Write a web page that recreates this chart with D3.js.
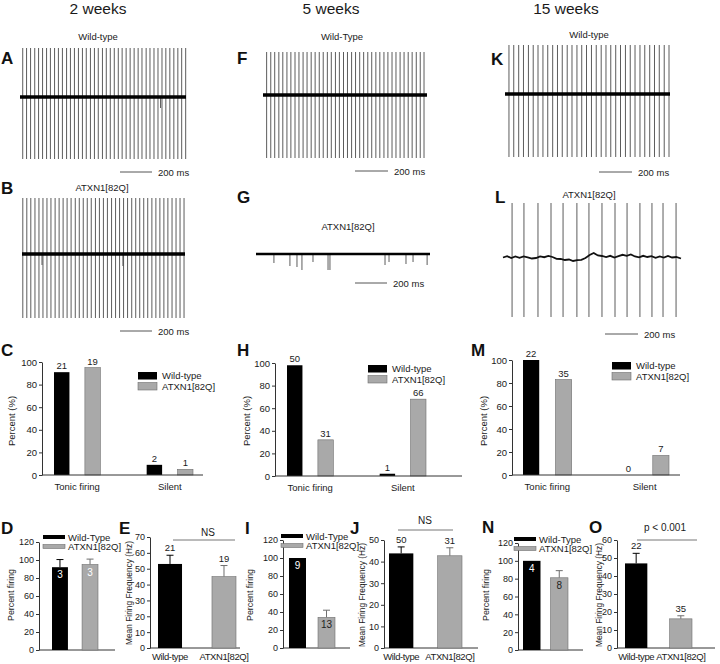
<!DOCTYPE html>
<html><head><meta charset="utf-8">
<script src="https://cdn.jsdelivr.net/npm/d3@7"></script>
<style>
body{margin:0;background:#fff}
svg text{font-family:"Liberation Sans",Arial,Helvetica,sans-serif;fill:#1a1a1a}
</style></head><body>
<svg id="fig" width="720" height="664"></svg>
<script>
// ---------------- DATA ----------------
const weekHeaders = ["2 weeks", "5 weeks", "15 weeks"];
const genotypes = ["Wild-type", "ATXN1[82Q]"];
const genotypesLegend = ["Wild-Type", "ATXN1[82Q]"];
const firingCategories = ["Tonic firing", "Silent"];
const scaleBarMs = 200;
const scaleBarLabel = "200 ms";

// traces: A, B, F, G, K, L
const traceIds = ["A", "B", "F", "G", "K", "L"];
const traceLabels = ["Wild-type", "ATXN1[82Q]", "Wild-Type", "ATXN1[82Q]", "Wild-type", "ATXN1[82Q]"];
const traceDurMs = [1037, 1019, 994, 1087, 1000, 1079];
const spikeUpAmp = [490, 560, 430, 0, 490, 540];
const spikeDownAmp = [620, 640, 630, 0, 630, 600];

const spikeTimesA = [17, 41, 66, 92, 116, 141, 166, 190, 216, 240, 265, 291, 315, 340, 365, 390, 414, 440, 465, 489, 515, 539, 564, 589, 614, 638, 663, 688, 713, 738, 762, 788, 812, 837, 862, 887, 911, 936, 961, 986, 1010, 1035];
const spikeTimesB = [5, 30, 55, 81, 106, 131, 156, 181, 207, 232, 257, 282, 307, 333, 358, 383, 408, 433, 459, 484, 509, 534, 560, 585, 610, 635, 660, 686, 711, 736, 761, 786, 812, 837, 862, 887, 912, 938, 963, 988, 1013];
const spikeTimesF = [22, 47, 71, 96, 120, 145, 169, 194, 218, 243, 267, 292, 316, 341, 365, 390, 414, 439, 463, 488, 512, 537, 561, 586, 610, 635, 659, 684, 708, 733, 757, 782, 806, 831, 855, 880, 904, 929, 953, 976];
const spikeTimesG = [];
const spikeTimesK = [24, 53, 83, 112, 142, 171, 200, 230, 259, 289, 318, 347, 377, 406, 436, 465, 494, 524, 553, 583, 612, 641, 671, 700, 730, 759, 788, 818, 847, 877, 906, 935, 965, 994];
const spikeTimesL = [55, 127, 212, 291, 364, 448, 521, 600, 679, 752, 830, 903, 970, 1049];

// small downward deflections (time ms, depth)
const dipTimesA = [878], dipDepthA = [110];
const dipTimesB = [125, 631], dipDepthB = [110, 120];
const dipTimesG = [112, 212, 256, 287, 356, 450, 462, 806, 831, 937, 981, 1069];
const dipDepthG = [90, 120, 130, 160, 80, 160, 160, 110, 80, 100, 80, 110];

// wavy baseline of trace L
const baseTimesL = [0, 25, 50, 75, 100, 125, 150, 175, 200, 225, 250, 275, 300, 325, 350, 375, 400, 425, 450, 475, 500, 525, 550, 575, 600, 625, 650, 675, 700, 725, 750, 775, 800, 825, 850, 875, 900, 925, 950, 975, 1000, 1025, 1050, 1079];
const baseValsL = [-5, 8, -10, 5, -8, 6, -4, -15, -10, 6, -2, 10, 0, -18, -20, -30, -25, -40, -32, -28, -10, 20, 40, 15, 10, 0, 12, -5, 8, 22, 12, 25, 5, -3, 12, 0, 8, -8, 5, -5, 10, -5, 0, -15];

// percent of cells (C, H, M)
const pctTicks = [0, 20, 40, 60, 80, 100];
const pctC_wt = [91, 9],  pctC_mut = [95, 5],  nC_wt = [21, 2],  nC_mut = [19, 1];
const pctH_wt = [98, 2],  pctH_mut = [32, 68], nH_wt = [50, 1],  nH_mut = [31, 66];
const pctM_wt = [100, 0], pctM_mut = [83, 17], nM_wt = [22, 0],  nM_mut = [35, 7];

// percent firing (D, I, N)
const firingTicks = [0, 20, 40, 60, 80, 100, 120];
const pctD = [92, 95],  errD = [8.5, 6], nD = [3, 3];
const pctI = [100, 34], errI = [0, 8],   nI = [9, 13];
const pctN = [100, 81], errN = [0, 8],   nN = [4, 8];

// mean firing frequency (E, J, O)
const freqTicksE = [0, 10, 20, 30, 40, 50, 60, 70];
const freqTicksJ = [0, 10, 20, 30, 40, 50];
const freqTicksO = [0, 10, 20, 30, 40, 50, 60];
const freqE = [53, 45],   errE = [5.5, 7],   nE = [21, 19];
const freqJ = [43.8, 42.7], errJ = [3, 3.7], nJ = [50, 31];
const freqO = [47, 16.2], errO = [5.6, 1.7], nO = [22, 35];
const sigE = "NS", sigJ = "NS", sigO = "p < 0.001";

// ---------------- LAYOUT ----------------
const svg = d3.select("#fig");
const BLACK = "#000", GREY = "#a9a9a9", GREY_EDGE = "#6e6e6e", AX = "#333";

function text(x, y, s, o = {}) {
  const t = svg.append("text").attr("x", x).attr("y", y).text(s)
    .attr("font-size", o.size || 9.5)
    .attr("text-anchor", o.anchor || "start");
  if (o.weight) t.attr("font-weight", o.weight);
  if (o.fill) t.style("fill", o.fill);
  if (o.ls) t.attr("letter-spacing", o.ls);
  if (o.len) t.attr("textLength", o.len).attr("lengthAdjust", "spacingAndGlyphs");
  if (o.rotate) t.attr("transform", `rotate(-90,${x},${y})`);
  return t;
}

// headers
const headerX = [98, 331, 566];
weekHeaders.forEach((h, i) => text(headerX[i], 14, h, {size: 15.5, anchor: "middle"}));

// panel letters
const letters = [
  ["A", 1, 64], ["B", 1, 194], ["C", 1, 356], ["D", 1, 534], ["E", 119, 534],
  ["F", 237, 64], ["G", 237, 203], ["H", 237, 356], ["I", 245, 534], ["J", 350, 534],
  ["K", 491, 65], ["L", 495, 203], ["M", 471, 356], ["N", 482, 533], ["O", 589, 533]
];
letters.forEach(([l, x, y]) => text(x, y, l, {size: 17, weight: "bold", fill: "#111"}));

// ---------------- TRACES ----------------
const traceLayout = {
  A: {x0: 20,  x1: 186, base: 97,  lx: 98,  ly: 40,  sbx: 120, sby: 172, bw: 3.4},
  B: {x0: 22,  x1: 185, base: 254, lx: 102, ly: 191, sbx: 120, sby: 331, bw: 3.4},
  F: {x0: 263, x1: 427, base: 95,  lx: 342, ly: 40,  sbx: 355, sby: 171, bw: 3.4},
  G: {x0: 256, x1: 430, base: 254, lx: 348, ly: 230, sbx: 355, sby: 283, bw: 2.4},
  K: {x0: 505, x1: 670, base: 94,  lx: 589, ly: 38,  sbx: 599, sby: 172, bw: 3.4},
  L: {x0: 503, x1: 681, base: 257, lx: 589, ly: 198, sbx: 605, sby: 334, bw: 1.8}
};
const traceSpikes = {A: spikeTimesA, B: spikeTimesB, F: spikeTimesF, G: spikeTimesG, K: spikeTimesK, L: spikeTimesL};
const traceDips = {A: [dipTimesA, dipDepthA], B: [dipTimesB, dipDepthB], G: [dipTimesG, dipDepthG]};

traceIds.forEach((id, i) => {
  const L = traceLayout[id];
  const x = d3.scaleLinear().domain([0, traceDurMs[i]]).range([L.x0, L.x1]);
  const y = d3.scaleLinear().domain([-1000, 1000]).range([L.base + 100, L.base - 100]);
  const g = svg.append("g");
  g.selectAll("line.sp").data(traceSpikes[id]).join("line")
    .attr("x1", d => x(d)).attr("x2", d => x(d))
    .attr("y1", y(spikeUpAmp[i])).attr("y2", y(-spikeDownAmp[i]))
    .attr("stroke", "#4a4a4a").attr("stroke-width", 0.9);
  if (traceDips[id]) {
    const [ts, ds] = traceDips[id];
    g.selectAll("line.dp").data(ts).join("line")
      .attr("x1", d => x(d)).attr("x2", d => x(d))
      .attr("y1", y(0)).attr("y2", (d, k) => y(-ds[k]))
      .attr("stroke", "#4a4a4a").attr("stroke-width", 0.9);
  }
  if (id === "L") {
    const pts = baseTimesL.map((t, k) => [t, baseValsL[k]]);
    g.append("path").attr("d", d3.line().x(d => x(d[0])).y(d => y(d[1])).curve(d3.curveLinear)(pts))
      .attr("fill", "none").attr("stroke", "#111").attr("stroke-width", L.bw);
  } else {
    g.append("line").attr("x1", x(0)).attr("x2", x(traceDurMs[i])).attr("y1", y(0)).attr("y2", y(0))
      .attr("stroke", "#000").attr("stroke-width", L.bw);
  }
  text(L.lx, L.ly, traceLabels[i], {size: 9.5, anchor: "middle"});
  const len = x(scaleBarMs) - x(0);
  svg.append("line").attr("x1", L.sbx).attr("x2", L.sbx + len).attr("y1", L.sby).attr("y2", L.sby)
    .attr("stroke", "#555").attr("stroke-width", 1);
  text(L.sbx + len + 6, L.sby + 3.5, scaleBarLabel, {size: 9.5});
});

// ---------------- AXIS HELPERS ----------------
function yAxis(x0, y, ticks, fs) {
  const g = svg.append("g").attr("transform", `translate(${x0},0)`)
    .call(d3.axisLeft(y).tickValues(ticks).tickSize(3).tickSizeOuter(0).tickPadding(2));
  g.selectAll("path,line").attr("stroke", AX);
  g.selectAll("text").attr("font-size", fs || 9.5).attr("font-family", null).style("fill", "#1a1a1a");
  return g;
}
function xLine(x0, x1, yy) {
  svg.append("line").attr("x1", x0).attr("x2", x1).attr("y1", yy).attr("y2", yy)
    .attr("stroke", AX).attr("stroke-width", 1);
}

// ---------------- GROUPED PERCENT CHARTS (C, H, M) ----------------
const groupedLayout = [
  {ax: 42,  axEnd: 203, yTop: 362, yBot: 475, band: [54, 193],  title: [15, 421],  leg: [138, 372], wt: pctC_wt, mut: pctC_mut, nw: nC_wt, nm: nC_mut},
  {ax: 275, axEnd: 462, yTop: 363, yBot: 476, band: [287, 426], title: [250, 421], leg: [368, 365], wt: pctH_wt, mut: pctH_mut, nw: nH_wt, nm: nH_mut},
  {ax: 512, axEnd: 680, yTop: 360, yBot: 475, band: [523, 669], title: [487, 421], leg: [612, 362], wt: pctM_wt, mut: pctM_mut, nw: nM_wt, nm: nM_mut}
];
groupedLayout.forEach(c => {
  const y = d3.scaleLinear().domain([0, 100]).range([c.yBot, c.yTop]);
  const xc = d3.scaleBand().domain(firingCategories).range(c.band).paddingInner(0.5).paddingOuter(0);
  const xg = d3.scaleBand().domain(genotypes).range([0, xc.bandwidth()]).paddingInner(0.5).paddingOuter(0);
  const rows = [];
  firingCategories.forEach((cat, k) => {
    rows.push({cat, g: genotypes[0], v: c.wt[k], n: c.nw[k]});
    rows.push({cat, g: genotypes[1], v: c.mut[k], n: c.nm[k]});
  });
  svg.append("g").selectAll("rect").data(rows).join("rect")
    .attr("x", d => xc(d.cat) + xg(d.g)).attr("width", xg.bandwidth())
    .attr("y", d => y(d.v)).attr("height", d => y(0) - y(d.v))
    .attr("fill", d => d.g === genotypes[0] ? BLACK : GREY)
    .attr("stroke", d => d.g === genotypes[0] ? "none" : GREY_EDGE).attr("stroke-width", 0.6);
  rows.forEach(d => text(xc(d.cat) + xg(d.g) + xg.bandwidth() / 2, y(d.v) - 3, d.n, {size: 9.5, anchor: "middle"}));
  yAxis(c.ax, y, pctTicks);
  xLine(c.ax, c.axEnd, y(0));
  firingCategories.forEach(cat => text(xc(cat) + xc.bandwidth() / 2, c.yBot + 15, cat, {size: 9.5, anchor: "middle"}));
  text(c.title[0], c.title[1], "Percent (%)", {size: 9.5, anchor: "middle", rotate: true});
  const [lx, ly] = c.leg;
  genotypes.forEach((g, k) => {
    svg.append("rect").attr("x", lx).attr("y", ly + k * 10.5).attr("width", 19).attr("height", 7.5)
      .attr("fill", k ? GREY : BLACK).attr("stroke", k ? GREY_EDGE : "none").attr("stroke-width", 0.6);
    text(lx + 24, ly + k * 10.5 + 7, g, {size: 9.5});
  });
});

// ---------------- PERCENT FIRING (D, I, N) ----------------
const firingLayout = [
  {ax: 39,  axEnd: 115, yTop: 542, yBot: 650, band: [52, 98],   pi: 0.47,  title: [14, 595],  leg: [43, 535],  v: pctD, e: errD, n: nD, c2: "#fff"},
  {ax: 283, axEnd: 350, yTop: 540, yBot: 648, band: [289, 335], pi: 0.414, title: [253, 595], leg: [281, 534], v: pctI, e: errI, n: nI, c2: "#222"},
  {ax: 518, axEnd: 583, yTop: 543, yBot: 650, band: [523, 568], pi: 0.364, title: [489, 595], leg: [514, 537], v: pctN, e: errN, n: nN, c2: "#222"}
];
firingLayout.forEach(c => {
  const y = d3.scaleLinear().domain([0, 120]).range([c.yBot, c.yTop]);
  const x = d3.scaleBand().domain(genotypes).range(c.band).paddingInner(c.pi).paddingOuter(0);
  yAxis(c.ax, y, firingTicks, 9);
  xLine(c.ax, c.axEnd, y(0));
  const rows = genotypes.map((g, k) => ({g, v: c.v[k], e: c.e[k], n: c.n[k], k}));
  rows.forEach(d => {
    if (d.e > 0) {
      const cx = x(d.g) + x.bandwidth() / 2;
      const col = d.k ? GREY_EDGE : "#000";
      svg.append("line").attr("x1", cx).attr("x2", cx).attr("y1", y(d.v)).attr("y2", y(d.v + d.e)).attr("stroke", col);
      svg.append("line").attr("x1", cx - 3.5).attr("x2", cx + 3.5).attr("y1", y(d.v + d.e)).attr("y2", y(d.v + d.e)).attr("stroke", col);
    }
  });
  svg.append("g").selectAll("rect").data(rows).join("rect")
    .attr("x", d => x(d.g)).attr("width", x.bandwidth())
    .attr("y", d => y(d.v)).attr("height", d => y(0) - y(d.v))
    .attr("fill", d => d.k ? GREY : BLACK)
    .attr("stroke", d => d.k ? GREY_EDGE : "none").attr("stroke-width", 0.6);
  rows.forEach(d => text(x(d.g) + x.bandwidth() / 2, y(d.v) + 11, d.n, {size: 10, anchor: "middle", fill: d.k ? c.c2 : "#fff"}));
  text(c.title[0], c.title[1], "Percent firing", {size: 9.5, anchor: "middle", rotate: true, len: 52});
  const [lx, ly] = c.leg;
  genotypesLegend.forEach((g, k) => {
    svg.append("rect").attr("x", lx).attr("y", ly + k * 9.5).attr("width", 22).attr("height", 4)
      .attr("fill", k ? GREY : BLACK).attr("stroke", k ? GREY_EDGE : "none").attr("stroke-width", 0.6);
    text(lx + 25, ly + k * 9.5 + 5.5, g, {size: 9.5});
  });
});

// ---------------- MEAN FIRING FREQUENCY (E, J, O) ----------------
const freqLayout = [
  {ax: 150, axEnd: 240, yTop: 537, yBot: 648, max: 70, ticks: freqTicksE, band: [158, 236], pi: 0.555, title: [132, 593],
   v: freqE, e: errE, n: nE, sig: sigE, sigLine: [173, 235, 540], sigText: [208, 536]},
  {ax: 384, axEnd: 478, yTop: 540, yBot: 648, max: 50, ticks: freqTicksJ, band: [389, 462], pi: 0.5, title: [365, 595],
   v: freqJ, e: errJ, n: nJ, sig: sigJ, sigLine: [398, 453, 530], sigText: [425, 524]},
  {ax: 617, axEnd: 715, yTop: 540, yBot: 648, max: 60, ticks: freqTicksO, band: [625, 692], pi: 0.5, title: [602, 595],
   v: freqO, e: errO, n: nO, sig: sigO, sigLine: [637, 697, 540], sigText: [665, 531]}
];
freqLayout.forEach(c => {
  const y = d3.scaleLinear().domain([0, c.max]).range([c.yBot, c.yTop]);
  const x = d3.scaleBand().domain(genotypes).range(c.band).paddingInner(c.pi).paddingOuter(0);
  yAxis(c.ax, y, c.ticks, 9);
  xLine(c.ax, c.axEnd, y(0));
  const rows = genotypes.map((g, k) => ({g, v: c.v[k], e: c.e[k], n: c.n[k], k}));
  rows.forEach(d => {
    const cx = x(d.g) + x.bandwidth() / 2;
    const col = d.k ? GREY_EDGE : "#000";
    svg.append("line").attr("x1", cx).attr("x2", cx).attr("y1", y(d.v)).attr("y2", y(d.v + d.e)).attr("stroke", col);
    svg.append("line").attr("x1", cx - 3.5).attr("x2", cx + 3.5).attr("y1", y(d.v + d.e)).attr("y2", y(d.v + d.e)).attr("stroke", col);
    text(cx, y(d.v + d.e) - 4, d.n, {size: 9.5, anchor: "middle"});
  });
  svg.append("g").selectAll("rect").data(rows).join("rect")
    .attr("x", d => x(d.g)).attr("width", x.bandwidth())
    .attr("y", d => y(d.v)).attr("height", d => y(0) - y(d.v))
    .attr("fill", d => d.k ? GREY : BLACK)
    .attr("stroke", d => d.k ? GREY_EDGE : "none").attr("stroke-width", 0.6);
  genotypes.forEach(g => text(x(g) + x.bandwidth() / 2, c.yBot + 12, g, {size: 9.5, anchor: "middle", ls: -0.4}));
  text(c.title[0], c.title[1], "Mean Firing Frequency (Hz)", {size: 9.5, anchor: "middle", rotate: true, len: 104});
  svg.append("line").attr("x1", c.sigLine[0]).attr("x2", c.sigLine[1]).attr("y1", c.sigLine[2]).attr("y2", c.sigLine[2])
    .attr("stroke", "#777").attr("stroke-width", 1);
  text(c.sigText[0], c.sigText[1], c.sig, {size: 10, anchor: "middle"});
});
</script>
</body></html>
